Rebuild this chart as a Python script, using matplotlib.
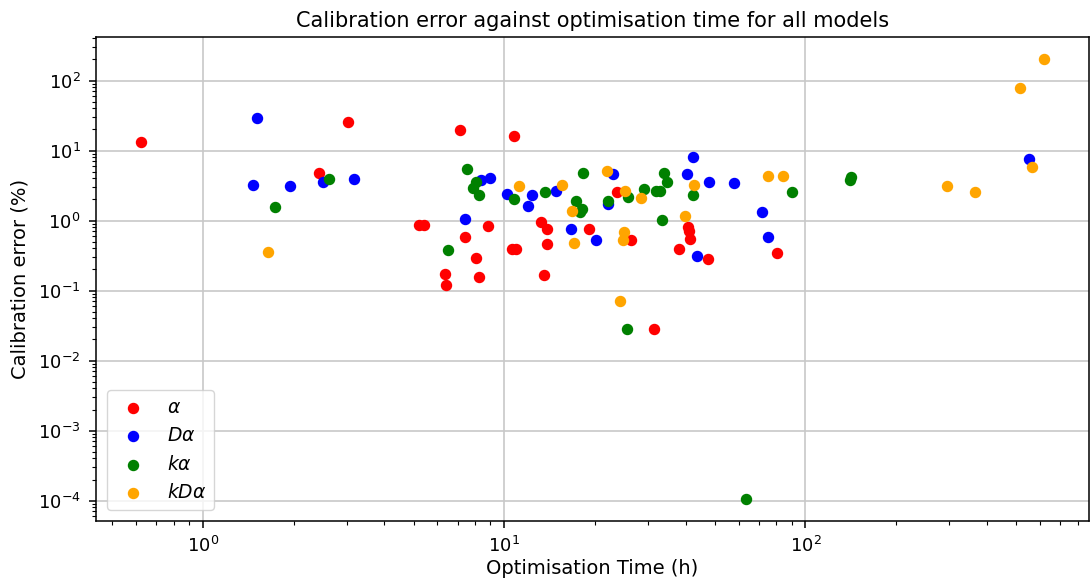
import matplotlib
matplotlib.use('Agg')
import matplotlib.pyplot as plt

# optimisation time (h) and calibration error (%) for each model family
alphaTime = [0.623, 3.04, 2.42, 7.12, 10.8, 5.2, 5.4, 8.82, 7.43, 10.6, 10.9,
             8.06, 6.36, 6.43, 8.25, 13.2, 13.9, 19.1, 13.9, 13.6, 23.7, 26.3,
             31.4, 40.8, 40.9, 41.3, 38.1, 47.3, 80.5]
alphaError = [13.4, 25.5, 4.85, 19.8, 16.2, 0.87, 0.87, 0.83, 0.59, 0.398, 0.398,
              0.296, 0.175, 0.122, 0.155, 0.96, 0.75, 0.75, 0.46, 0.166, 2.57, 0.525,
              0.028, 0.82, 0.70, 0.553, 0.398, 0.281, 0.342]

dAlphaTime = [1.506, 2.51, 3.16, 1.47, 1.95, 8.95, 8.36, 10.2, 12.4, 12.0, 7.43,
              14.85, 16.7, 20.2, 22.9, 22.1, 42.2, 40.3, 47.8, 43.7, 58.0, 71.8,
              75.1, 553]
dAlphaError = [29.3, 3.57, 3.94, 3.27, 3.10, 4.11, 3.81, 2.43, 2.31, 1.64, 1.06,
               2.68, 0.76, 0.53, 4.6, 1.73, 8.2, 4.6, 3.61, 0.313, 3.42, 1.34,
               0.585, 7.54]

kAlphaTime = [2.63, 1.73, 7.51, 8.06, 7.86, 8.25, 10.8, 6.5, 13.7, 18.2, 17.3,
              18.1, 17.9, 22.1, 25.7, 25.6, 29.0, 31.9, 33.0, 34.0, 34.8, 33.3,
              42.2, 90.3, 140.6, 142.1, 63.5]
kAlphaError = [3.98, 1.57, 5.53, 3.61, 2.96, 2.28, 2.0, 0.378, 2.57, 4.8, 1.91,
               1.48, 1.32, 1.93, 2.18, 0.028, 2.81, 2.66, 2.66, 4.85, 3.57, 1.01,
               2.28, 2.57, 3.78, 4.17, 1.06e-4]

kdAlphaTime = [1.65, 11.2, 15.6, 16.8, 17.0, 22.0, 25.1, 25.0, 24.7, 24.2, 28.4,
               42.6, 39.8, 75.1, 84.3, 618, 517, 566, 296, 364]
kdAlphaError = [0.36, 3.10, 3.27, 1.36, 0.48, 5.08, 2.68, 0.69, 0.525, 0.071, 2.09,
                3.24, 1.18, 4.35, 4.35, 206, 77.9, 5.85, 3.10, 2.55]

series = [
    (alphaTime, alphaError, 'red', r'$\alpha$'),
    (dAlphaTime, dAlphaError, 'blue', r'$D\alpha$'),
    (kAlphaTime, kAlphaError, 'green', r'$k\alpha$'),
    (kdAlphaTime, kdAlphaError, 'orange', r'$kD\alpha$'),
]


def main():
    fig = plt.figure(figsize=(10.9, 5.8), dpi=100)
    ax = fig.add_axes([0.088, 0.102, 0.911, 0.835])
    for times, errors, colour, label in series:
        ax.scatter(times, errors, color=colour, label=label, s=52, zorder=3)
    ax.set_xscale('log')
    ax.set_yscale('log')
    ax.grid(True, color='#c8c8c8', linewidth=1.2)
    for spine in ax.spines.values():
        spine.set_linewidth(1.1)
    ax.set_title('Calibration error against optimisation time for all models',
                 fontsize=15, pad=7)
    ax.set_xlabel('Optimisation Time (h)', fontsize=14, labelpad=2)
    ax.set_ylabel('Calibration error (%)', fontsize=14, labelpad=6)
    ax.tick_params(which='major', labelsize=13, length=5, width=1.1, pad=6)
    ax.tick_params(which='minor', length=3, width=0.8)
    ax.legend(loc='lower left', fontsize=13.5, borderaxespad=0.6)
    fig.savefig('out.png')


if __name__ == '__main__':
    main()
